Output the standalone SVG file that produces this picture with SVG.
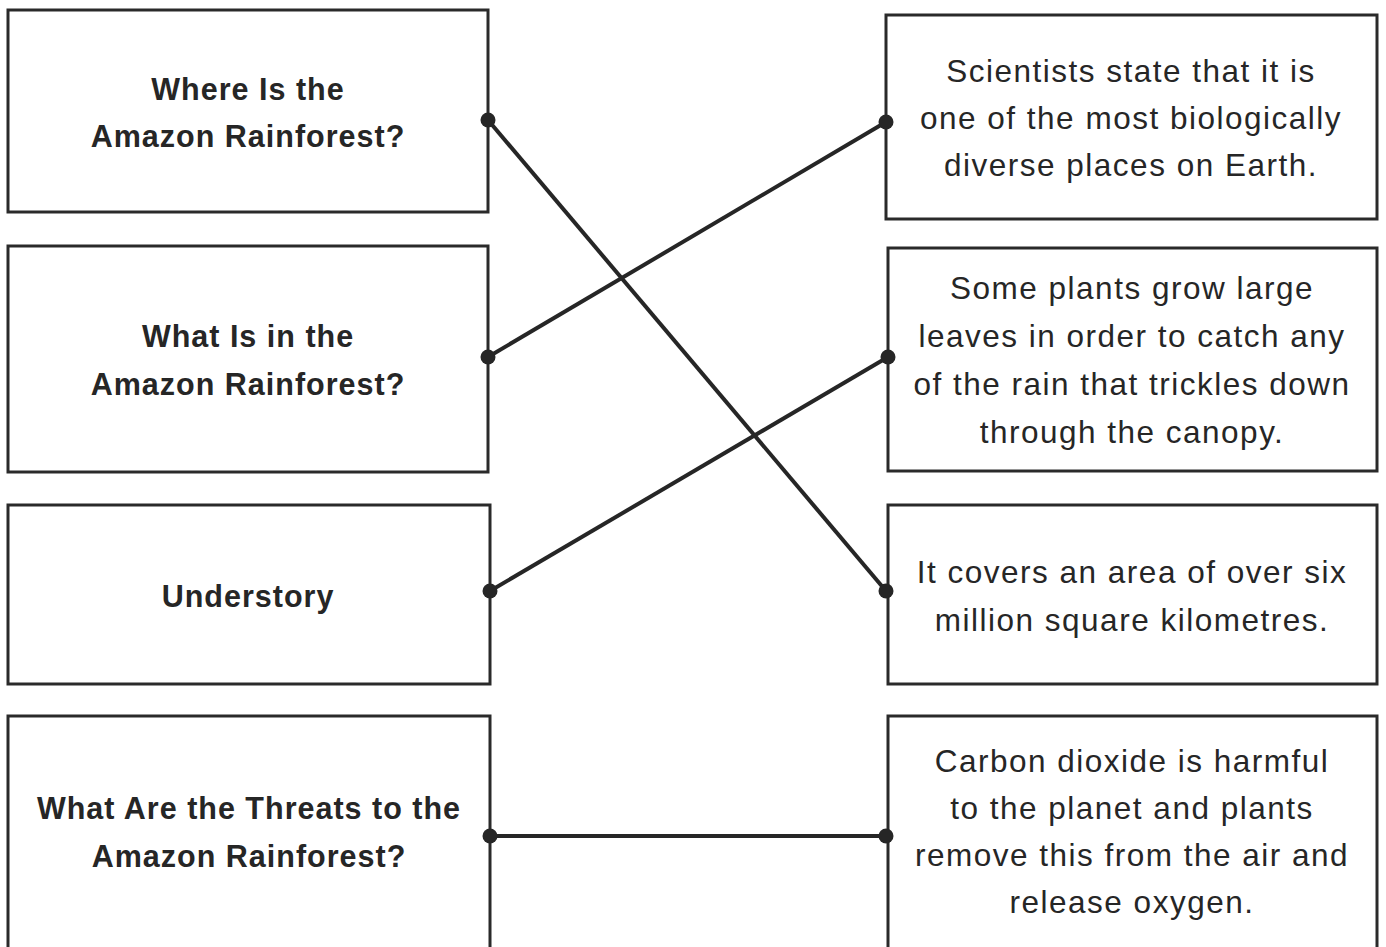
<svg xmlns="http://www.w3.org/2000/svg" width="1386" height="947" viewBox="0 0 1386 947">
<style>
.box{fill:#fff;stroke:#2a2a2a;stroke-width:3}
.q{font-family:"Liberation Sans",Arial,sans-serif;font-weight:bold;font-size:30.5px;fill:#262626;text-anchor:middle;letter-spacing:1px}
.a{font-family:"Liberation Sans",Arial,sans-serif;font-size:31.5px;fill:#262626;text-anchor:middle;letter-spacing:1.5px}
.ln{stroke:#262626;stroke-width:4;fill:none}
.dot{fill:#262626}
</style>
<rect width="1386" height="947" fill="#fff"/>
<g id="q1"><rect class="box" x="8" y="10" width="480" height="202"/><text class="q" x="248" y="100">Where Is the</text><text class="q" x="248" y="147">Amazon Rainforest?</text></g>
<g id="q2"><rect class="box" x="8" y="246" width="480" height="226"/><text class="q" x="248" y="347">What Is in the</text><text class="q" x="248" y="395">Amazon Rainforest?</text></g>
<g id="q3"><rect class="box" x="8" y="505" width="482" height="179"/><text class="q" x="248" y="607">Understory</text></g>
<g id="q4"><rect class="box" x="8" y="716" width="482" height="240"/><text class="q" x="249" y="819">What Are the Threats to the</text><text class="q" x="249" y="867">Amazon Rainforest?</text></g>
<g id="a1"><rect class="box" x="886" y="15" width="491" height="204"/><text class="a" x="1131" y="82">Scientists state that it is</text><text class="a" x="1131" y="129">one of the most biologically</text><text class="a" x="1131" y="176">diverse places on Earth.</text></g>
<g id="a2"><rect class="box" x="888" y="248" width="489" height="223"/><text class="a" x="1132" y="299">Some plants grow large</text><text class="a" x="1132" y="347">leaves in order to catch any</text><text class="a" x="1132" y="395">of the rain that trickles down</text><text class="a" x="1132" y="443">through the canopy.</text></g>
<g id="a3"><rect class="box" x="888" y="505" width="489" height="179"/><text class="a" x="1132" y="583">It covers an area of over six</text><text class="a" x="1132" y="631">million square kilometres.</text></g>
<g id="a4"><rect class="box" x="888" y="716" width="489" height="240"/><text class="a" x="1132" y="772">Carbon dioxide is harmful</text><text class="a" x="1132" y="819">to the planet and plants</text><text class="a" x="1132" y="866">remove this from the air and</text><text class="a" x="1132" y="913">release oxygen.</text></g>
<g id="connectors">
<line class="ln" x1="488" y1="120" x2="886" y2="591"/>
<line class="ln" x1="488" y1="357" x2="886" y2="122"/>
<line class="ln" x1="490" y1="591" x2="888" y2="357"/>
<line class="ln" x1="490" y1="836" x2="886" y2="836"/>
<circle class="dot" cx="488" cy="120" r="7.5"/><circle class="dot" cx="886" cy="591" r="7.5"/>
<circle class="dot" cx="488" cy="357" r="7.5"/><circle class="dot" cx="886" cy="122" r="7.5"/>
<circle class="dot" cx="490" cy="591" r="7.5"/><circle class="dot" cx="888" cy="357" r="7.5"/>
<circle class="dot" cx="490" cy="836" r="7.5"/><circle class="dot" cx="886" cy="836" r="7.5"/>
</g>
</svg>
